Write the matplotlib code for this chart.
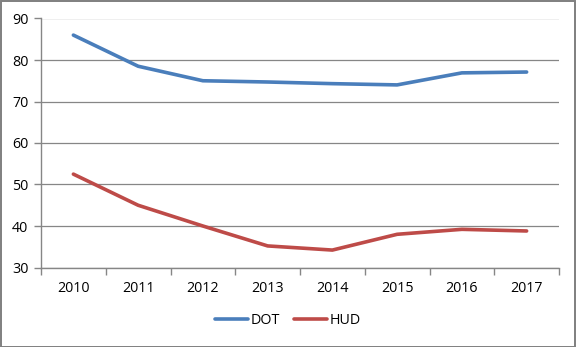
import matplotlib
matplotlib.use("Agg")
import matplotlib.pyplot as plt
from matplotlib.patches import Rectangle

years = ["2010", "2011", "2012", "2013", "2014", "2015", "2016", "2017"]
dot = [86.0, 78.5, 75.0, 74.7, 74.3, 74.0, 76.9, 77.1]
hud = [52.5, 45.0, 40.0, 35.2, 34.2, 38.0, 39.2, 38.8]

plt.rcParams['font.family'] = ['Open Sans', 'DejaVu Sans']

fig = plt.figure(figsize=(5.76, 3.47), dpi=100)
W, H = 576, 347
ax = fig.add_axes([41 / W, 1 - 267.5 / H, (559 - 41) / W, (267.5 - 18.5) / H])

x = list(range(len(years)))
ax.plot(x, dot, color="#4A7EBB", lw=2.6, label="DOT", solid_capstyle="round")
ax.plot(x, hud, color="#BE4B48", lw=2.6, label="HUD", solid_capstyle="round")

ax.set_xlim(-0.5, len(years) - 0.5)
ax.set_ylim(30, 90)
ax.set_yticks(range(30, 91, 10))
ax.set_xticks(x)
ax.set_xticklabels(years)
ax.set_xticks([i - 0.5 for i in range(len(years) + 1)], minor=True)
ax.tick_params(axis="x", which="major", length=0, pad=10, labelsize=10.3, colors="#000000")
ax.tick_params(axis="x", which="minor", length=5, color="#868686", width=1)
ax.tick_params(axis="y", length=5, color="#868686", width=1, labelsize=10.3, pad=4)
ax.grid(axis="y", color="#868686", lw=0.9)
ax.set_axisbelow(True)
for s in ["top", "right"]:
    ax.spines[s].set_visible(False)
for s in ["left", "bottom"]:
    ax.spines[s].set_color("#868686")
    ax.spines[s].set_linewidth(1)

leg = fig.legend(loc="center", bbox_to_anchor=(0.5, 1 - 321 / H), ncol=2, frameon=False,
                 fontsize=10.3, handlelength=2.3, handletextpad=0.15, columnspacing=1.0)

fig.patches.append(Rectangle((0.5 / W, 0.5 / H), 1 - 1.5 / W, 1 - 1.5 / H, transform=fig.transFigure,
                             fill=False, edgecolor="#7f7f7f", lw=1.4))

fig.savefig("out.png", dpi=100)
